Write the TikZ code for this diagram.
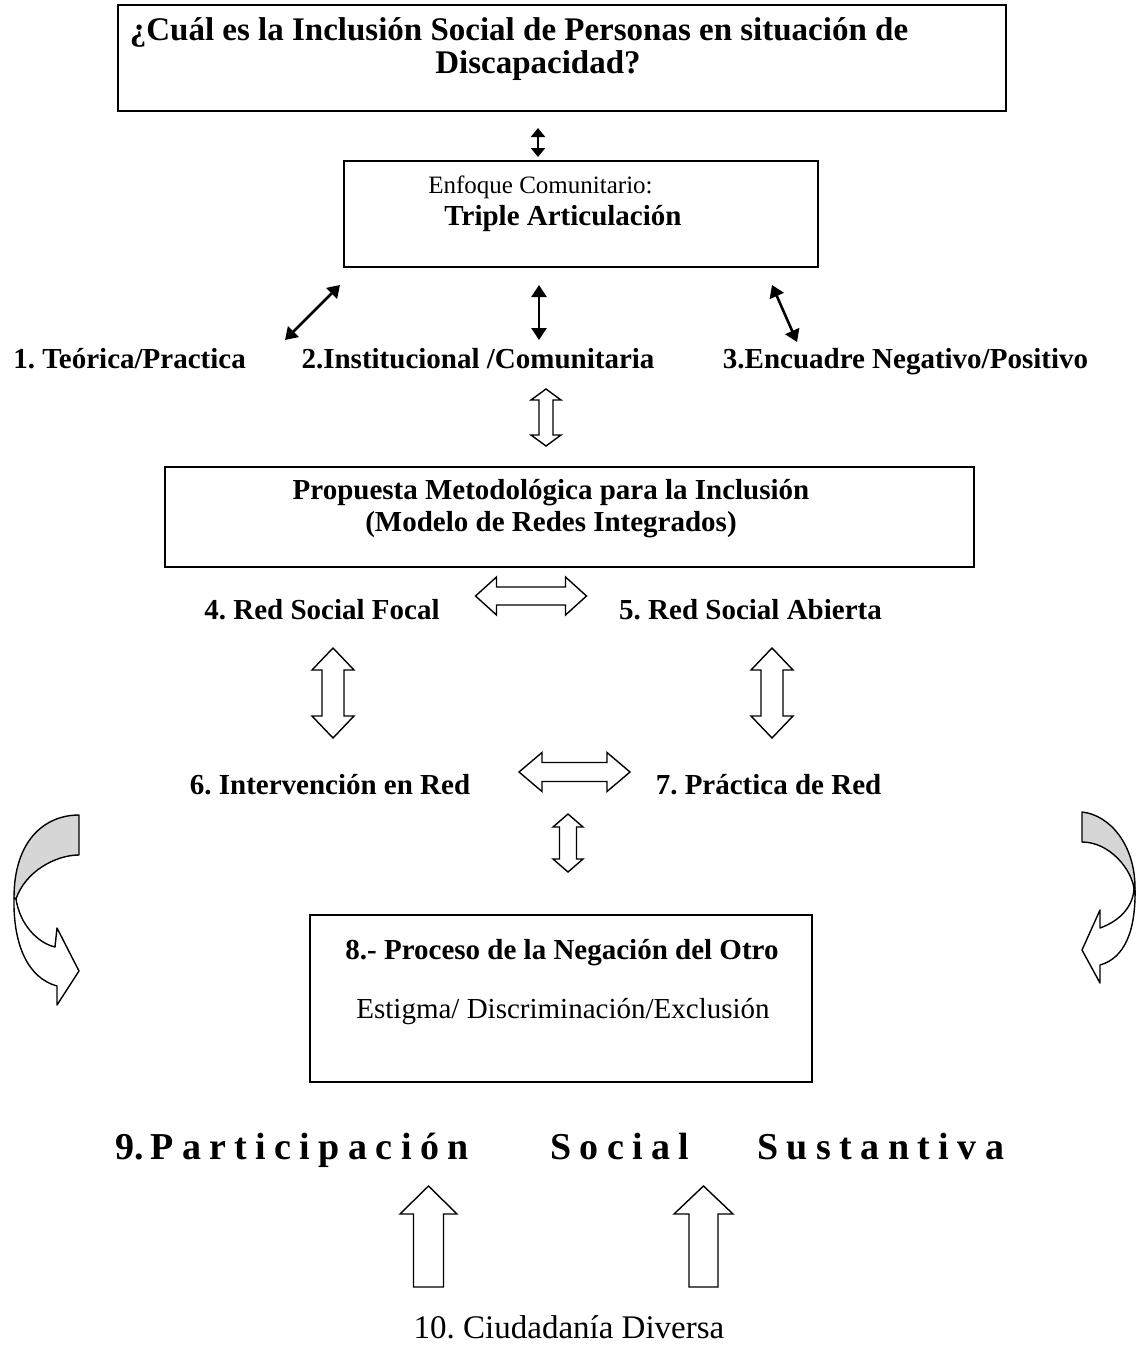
\documentclass[tikz,border=0pt]{standalone}
\usepackage{fontspec}
\setmainfont{Liberation Serif}
\usetikzlibrary{positioning,fit,arrows.meta}
\frenchspacing

\definecolor{bandgray}{gray}{0.84}

% spaced letters for the big line
\newcommand{\spread}[1]{\spreadloop#1\relax}
\def\spreadloop#1{\ifx#1\relax\else#1\kern4.2pt\expandafter\spreadloop\fi}

\tikzset{
    box/.style={draw, line width=0.6pt, inner sep=0pt},
    lbl/.style={font=\fontsize{14.5}{16.5}\selectfont\bfseries, inner sep=0pt, anchor=base},
    txt/.style={font=\fontsize{14.5}{16.5}\selectfont, inner sep=0pt, anchor=base},
    big/.style={font=\fontsize{19}{22}\selectfont\bfseries, inner sep=0pt, anchor=base west},
    thinarr/.style={{Triangle[length=6pt,width=7.5pt]}-{Triangle[length=6pt,width=7.5pt]}, line width=1.3pt},
    shortarr/.style={{Triangle[length=4.5pt,width=7pt]}-{Triangle[length=4.5pt,width=7pt]}, line width=1.3pt},
    hollow/.style={draw, line width=0.7pt, fill=white, line join=miter},
    curv/.style={draw, line width=0.7pt, line join=round},
    pics/hdbl/.style args={#1/#2/#3/#4}{code={
        \draw[hollow] (-#1/2,0) -- (-#1/2+#4,#3) -- (-#1/2+#4,#2) -- (#1/2-#4,#2)
            -- (#1/2-#4,#3) -- (#1/2,0) -- (#1/2-#4,-#3) -- (#1/2-#4,-#2)
            -- (-#1/2+#4,-#2) -- (-#1/2+#4,-#3) -- cycle;
    }},
    pics/hup/.style args={#1/#2/#3/#4}{code={
        \draw[hollow] (0,0) -- (#3,#4) -- (#2,#4) -- (#2,#1) -- (-#2,#1)
            -- (-#2,#4) -- (-#3,#4) -- cycle;
    }},
}

\begin{document}
\begin{tikzpicture}[x=0.5pt, y=-0.5pt]
    \useasboundingbox (0,0) rectangle (1135,1349);

    % boxes
    \node[box, fit={(118,5) (1006,111)}] (pregunta) {};
    \node[box, fit={(344,161) (818,267)}] (enfoque) {};
    \node[box, fit={(165,467) (974,567)}] (propuesta) {};
    \node[box, fit={(310,915) (812,1082)}] (negacion) {};

    \node[lbl, font=\fontsize{16.5}{18}\selectfont\bfseries] (preg1) at (519,40) {¿Cuál es la Inclusión Social de Personas en situación de};
    \node[lbl, font=\fontsize{16.5}{18}\selectfont\bfseries] (preg2) at (538,73) {Discapacidad?};
    \node[txt, font=\fontsize{12.5}{15}\selectfont] (enf1) at (540.5,193) {Enfoque Comunitario:};
    \node[lbl] (enf2) at (563,225) {Triple Articulación};

    \node[lbl] (teorica) at (129.5,368) {1. Teórica/Practica};
    \node[lbl] (institucional) at (478,368) {2.Institucional /Comunitaria};
    \node[lbl] (encuadre) at (905.5,368) {3.Encuadre Negativo/Positivo};

    \node[lbl] (prop1) at (551,499) {Propuesta Metodológica para la Inclusión};
    \node[lbl] (prop2) at (551,531) {(Modelo de Redes Integrados)};

    \node[lbl] (focal) at (322,619) {4. Red Social Focal};
    \node[lbl] (abierta) at (750.5,619) {5. Red Social Abierta};
    \node[lbl] (intervencion) at (330,794) {6. Intervención en Red};
    \node[lbl] (practica) at (768.5,794) {7. Práctica de Red};

    \node[lbl] (neg1) at (562,959) {8.- Proceso de la Negación del Otro};
    \node[txt] (neg2) at (563,1018) {Estigma/ Discriminación/Exclusión};

    \node[big] (p9) at (115,1159) {9.};
    \node[big] (p9a) at (150,1159) {\spread{Participación}};
    \node[big] (p9b) at (550,1159) {\spread{Social}};
    \node[big] (p9c) at (757,1159) {\spread{Sustantiva}};

    \node[txt, font=\fontsize{16.5}{18}\selectfont] (ciudadania) at (569,1338) {10. Ciudadanía Diversa};

    % thin arrows
    \coordinate (t0a) at (538,128);
    \coordinate (t0b) at (538,157);
    \coordinate (t1a) at (285,340);
    \coordinate (t1b) at (340,285);
    \coordinate (t2a) at (539,285);
    \coordinate (t2b) at (539,340);
    \coordinate (t3a) at (772,285);
    \coordinate (t3b) at (797,342);
    \draw[shortarr] (t0a) -- (t0b);
    \draw[thinarr] (t1a) -- (t1b);
    \draw[thinarr] (t2a) -- (t2b);
    \draw[thinarr] (t3a) -- (t3b);

    % hollow arrows
    \pic[rotate=90] at (546,417.5) {hdbl=57/7/15/11};
    \pic at (531,596) {hdbl=111/9/19/21};
    \pic[rotate=90] at (333,693) {hdbl=90/11/21/22};
    \pic[rotate=90] at (772,693) {hdbl=90/11/21/22};
    \pic at (574.5,772) {hdbl=111/9.5/19.5/23};
    \pic[rotate=90] at (568,843) {hdbl=58/8.5/15/13};
    \pic at (428.5,1186) {hup=101/15/28.5/28};
    \pic at (703.5,1186) {hup=101/14.5/29.5/28};

    % curved arrows at the sides
    \filldraw[curv, fill=bandgray] (79,815) .. controls (45,815) and (14,840) .. (14,898)
        -- (16,899) .. controls (25,872) and (55,855) .. (79,855) -- cycle;
    \filldraw[curv, fill=white] (14,898) .. controls (13,945) and (28,978) .. (57,986)
        -- (57,1005) -- (79,971) -- (57,928) -- (55,947)
        .. controls (38,943) and (20,925) .. (16,899) -- cycle;

    \filldraw[curv, fill=bandgray] (1082,812) .. controls (1110,815) and (1135,845) .. (1135,888)
        -- (1134,889) .. controls (1132,870) and (1110,842) .. (1082,842) -- cycle;
    \filldraw[curv, fill=white] (1135,888) .. controls (1136,930) and (1125,958) .. (1100,965)
        -- (1100,983) -- (1082,950) -- (1100,910) -- (1100,928)
        .. controls (1122,920) and (1133,905) .. (1134,889) -- cycle;
\end{tikzpicture}
\end{document}
